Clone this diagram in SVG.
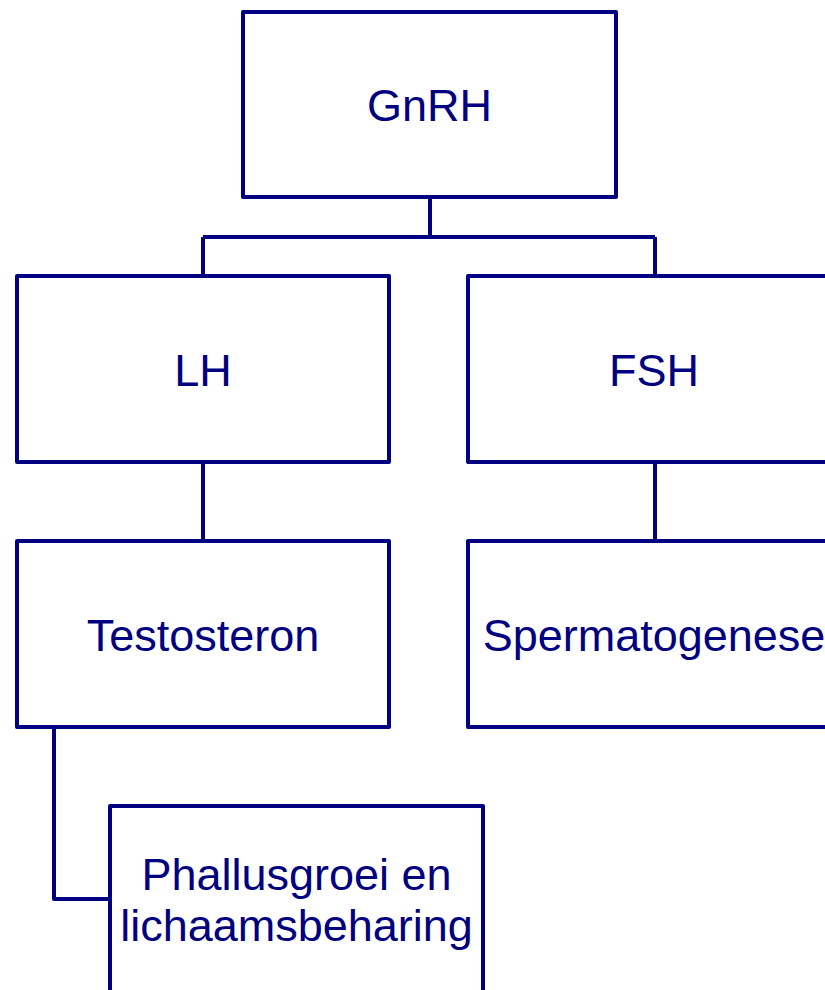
<svg xmlns="http://www.w3.org/2000/svg" width="825" height="990" viewBox="0 0 825 990">
<style>
.box{fill:#ffffff;stroke:#000080;stroke-width:4;stroke-linejoin:round}
.conn{fill:none;stroke:#000080;stroke-width:4;stroke-linejoin:round}
.t{font-family:"Liberation Sans",Arial,sans-serif;font-size:45px;fill:#000080;text-anchor:middle}
</style>
<rect width="825" height="990" fill="#ffffff"/>
<g id="connectors">
<path class="conn" d="M430 197 V237 M203 237 H655 M203 237 V276 M655 237 V276"/>
<path class="conn" d="M203 462 V541"/>
<path class="conn" d="M655 462 V541"/>
<path class="conn" d="M54 727 V899 H110"/>
</g>
<g id="gnrh">
<rect class="box" x="243" y="12" width="373" height="185"/>
<text class="t" x="429.5" y="121">GnRH</text>
</g>
<g id="lh">
<rect class="box" x="17" y="276" width="372" height="186"/>
<text class="t" x="203" y="386">LH</text>
</g>
<g id="fsh">
<rect class="box" x="468" y="276" width="372" height="186"/>
<text class="t" x="654" y="386">FSH</text>
</g>
<g id="testosteron">
<rect class="box" x="17" y="541" width="372" height="186"/>
<text class="t" x="203" y="651">Testosteron</text>
</g>
<g id="spermatogenese">
<rect class="box" x="468" y="541" width="372" height="186"/>
<text class="t" x="654" y="651">Spermatogenese</text>
</g>
<g id="phallusgroei">
<rect class="box" x="110" y="806" width="373" height="200"/>
<text class="t" x="296.5" y="890">Phallusgroei en</text>
<text class="t" x="296.5" y="941">lichaamsbeharing</text>
</g>
</svg>
